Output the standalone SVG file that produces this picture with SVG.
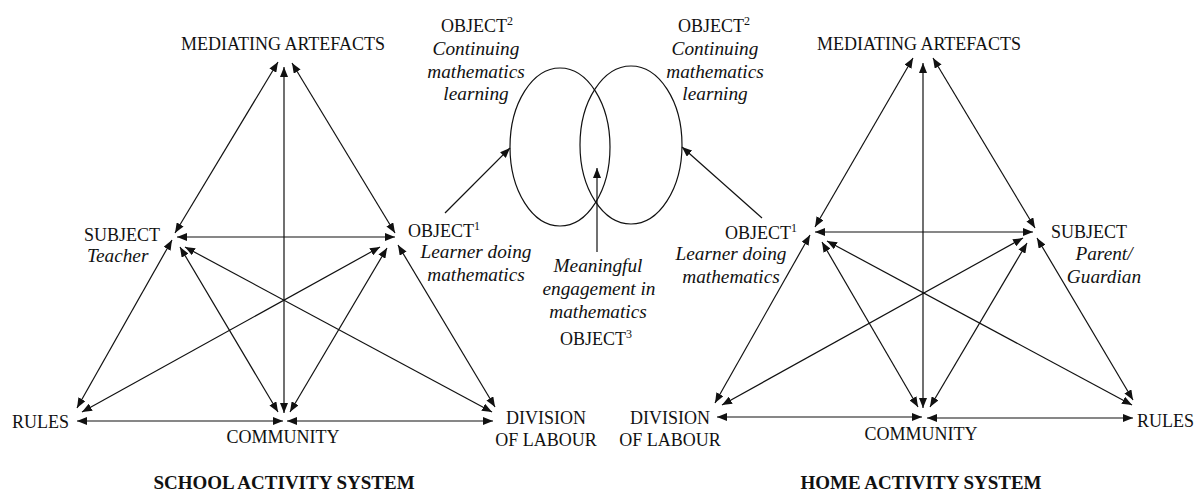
<svg xmlns="http://www.w3.org/2000/svg" width="1196" height="493" viewBox="0 0 1196 493">
<style>
  text { font-family: "Liberation Serif", "Times New Roman", serif; fill: #111; }
  .cap { font-size: 18px; }
  .it { font-size: 19.3px; font-style: italic; }
  .title { font-size: 19px; font-weight: bold; }
  .mid { text-anchor: middle; }
  .end { text-anchor: end; }
  .sup { font-size: 12px; }
  .c line { stroke: #111; stroke-width: 1.2; marker-start: url(#ah); marker-end: url(#ah); }
  .c line.one { marker-start: none; }
  ellipse { fill: none; stroke: #111; stroke-width: 1.2; }
</style>
<defs>
  <marker id="ah" viewBox="0 0 10 8" refX="10" refY="4" markerWidth="10" markerHeight="8" markerUnits="userSpaceOnUse" orient="auto-start-reverse">
    <path d="M0,0 L10,4 L0,8 z" fill="#111"/>
  </marker>
</defs>
<rect width="1196" height="493" fill="#fff"/>

<g id="connectors" class="c">
  <!-- school -->
  <line x1="175" y1="233" x2="278" y2="62"/>
  <line x1="395" y1="233" x2="292" y2="63"/>
  <line x1="284" y1="413" x2="284" y2="67"/>
  <line x1="177" y1="237" x2="395" y2="237"/>
  <line x1="172" y1="240" x2="77" y2="408"/>
  <line x1="180" y1="247" x2="278" y2="412"/>
  <line x1="185" y1="247" x2="492" y2="412"/>
  <line x1="380" y1="247" x2="82" y2="412"/>
  <line x1="387" y1="248" x2="290" y2="412"/>
  <line x1="398" y1="245" x2="495" y2="407"/>
  <line x1="77" y1="421" x2="283" y2="421"/>
  <line x1="287" y1="421" x2="493" y2="421"/>
  <!-- home -->
  <line x1="815" y1="227" x2="913" y2="58"/>
  <line x1="1035" y1="228" x2="933" y2="58"/>
  <line x1="923" y1="408" x2="923" y2="63"/>
  <line x1="815" y1="232" x2="1033" y2="232"/>
  <line x1="810" y1="235" x2="715" y2="403"/>
  <line x1="822" y1="242" x2="918" y2="407"/>
  <line x1="827" y1="241" x2="1132" y2="405"/>
  <line x1="1023" y1="238" x2="722" y2="405"/>
  <line x1="1027" y1="243" x2="930" y2="407"/>
  <line x1="1037" y1="238" x2="1133" y2="400"/>
  <line x1="717" y1="417" x2="922" y2="417"/>
  <line x1="927" y1="418" x2="1133" y2="418"/>
  <!-- middle -->
  <line class="one" x1="445" y1="213" x2="510" y2="148"/>
  <line class="one" x1="762" y1="218" x2="682" y2="147"/>
  <line class="one" x1="597" y1="252" x2="597" y2="168"/>
</g>

<g id="object2-ellipses">
  <ellipse cx="560" cy="147" rx="50" ry="79"/>
  <ellipse cx="631" cy="145" rx="51" ry="79"/>
</g>

<!-- School activity system -->
<g id="school-mediating"><text class="cap mid" x="283" y="50">MEDIATING ARTEFACTS</text></g>
<g id="school-subject">
  <text class="cap" x="84" y="241">SUBJECT</text>
  <text class="it" x="87" y="262">Teacher</text>
</g>
<g id="school-object1">
  <text class="cap" x="408" y="237">OBJECT<tspan class="sup" dy="-7">1</tspan></text>
  <text class="it mid" x="476" y="258">Learner doing</text>
  <text class="it mid" x="476" y="281">mathematics</text>
</g>
<g id="school-rules"><text class="cap" x="12" y="428">RULES</text></g>
<g id="school-community"><text class="cap mid" x="283" y="443">COMMUNITY</text></g>
<g id="school-division">
  <text class="cap mid" x="546" y="424">DIVISION</text>
  <text class="cap mid" x="546" y="446">OF LABOUR</text>
</g>
<g id="school-title"><text class="title mid" x="284" y="489">SCHOOL ACTIVITY SYSTEM</text></g>

<!-- Middle -->
<g id="object2-left">
  <text class="cap" x="441" y="32">OBJECT<tspan class="sup" dy="-7">2</tspan></text>
  <text class="it mid" x="476" y="55">Continuing</text>
  <text class="it mid" x="476" y="78">mathematics</text>
  <text class="it mid" x="476" y="100">learning</text>
</g>
<g id="object2-right">
  <text class="cap" x="678" y="32">OBJECT<tspan class="sup" dy="-7">2</tspan></text>
  <text class="it mid" x="715" y="55">Continuing</text>
  <text class="it mid" x="715" y="78">mathematics</text>
  <text class="it mid" x="715" y="100">learning</text>
</g>
<g id="object3">
  <text class="it mid" x="598" y="272">Meaningful</text>
  <text class="it mid" x="599" y="295">engagement in</text>
  <text class="it mid" x="598" y="318">mathematics</text>
  <text class="cap" x="560" y="345">OBJECT<tspan class="sup" dy="-7">3</tspan></text>
</g>

<!-- Home activity system -->
<g id="home-mediating"><text class="cap mid" x="919" y="50">MEDIATING ARTEFACTS</text></g>
<g id="home-object1">
  <text class="cap" x="725" y="239">OBJECT<tspan class="sup" dy="-7">1</tspan></text>
  <text class="it mid" x="731" y="260">Learner doing</text>
  <text class="it mid" x="731" y="283">mathematics</text>
</g>
<g id="home-subject">
  <text class="cap" x="1051" y="238">SUBJECT</text>
  <text class="it mid" x="1104" y="260">Parent/</text>
  <text class="it mid" x="1104" y="283">Guardian</text>
</g>
<g id="home-division">
  <text class="cap mid" x="670" y="424">DIVISION</text>
  <text class="cap mid" x="670" y="446">OF LABOUR</text>
</g>
<g id="home-community"><text class="cap mid" x="921" y="440">COMMUNITY</text></g>
<g id="home-rules"><text class="cap" x="1137" y="427">RULES</text></g>
<g id="home-title"><text class="title mid" x="921" y="489">HOME ACTIVITY SYSTEM</text></g>
</svg>
